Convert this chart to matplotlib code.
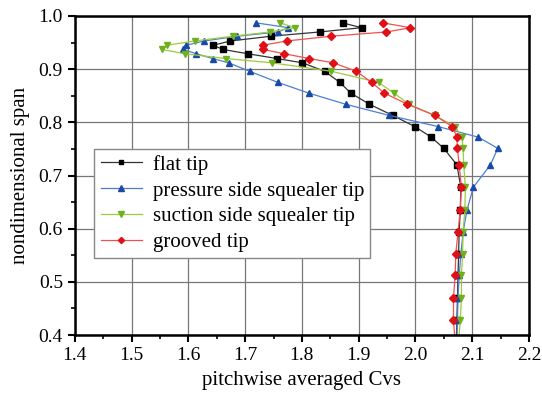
import matplotlib
matplotlib.use("Agg")
import matplotlib.pyplot as plt
from matplotlib.ticker import MultipleLocator
from matplotlib import font_manager

names = {f.name for f in font_manager.fontManager.ttflist}
fam = [n for n in ['Liberation Serif', 'Times New Roman', 'Nimbus Roman', 'STIXGeneral', 'DejaVu Serif'] if n in names]
plt.rcParams['font.family'] = fam

span = [0.987, 0.978, 0.970, 0.962, 0.953, 0.945, 0.937, 0.929, 0.920, 0.912,
        0.896, 0.875, 0.855, 0.834, 0.813, 0.792, 0.772, 0.751, 0.720, 0.678,
        0.636, 0.594, 0.552, 0.512, 0.470, 0.428, 0.386]

flat_tip = [1.872, 1.905, 1.832, 1.746, 1.674, 1.644, 1.661, 1.705, 1.756, 1.801,
            1.840, 1.867, 1.886, 1.919, 1.960, 1.999, 2.028, 2.050, 2.073, 2.080,
            2.079, 2.077, 2.076, 2.075, 2.074, 2.073, 2.072]
pressure_side = [1.720, 1.776, 1.758, 1.686, 1.628, 1.596, 1.591, 1.614, 1.643, 1.671,
                 1.708, 1.758, 1.812, 1.877, 1.954, 2.040, 2.111, 2.145, 2.132, 2.102,
                 2.091, 2.084, 2.080, 2.077, 2.075, 2.074, 2.073]
suction_side = [1.762, 1.788, 1.744, 1.679, 1.611, 1.562, 1.554, 1.594, 1.666, 1.747,
                1.852, 1.935, 1.962, 1.989, 2.034, 2.070, 2.082, 2.084, 2.085, 2.088,
                2.087, 2.084, 2.083, 2.081, 2.081, 2.079, 2.076]
grooved = [1.943, 1.991, 1.949, 1.852, 1.773, 1.731, 1.732, 1.769, 1.813, 1.855,
           1.896, 1.923, 1.945, 1.986, 2.034, 2.065, 2.073, 2.074, 2.077, 2.081,
           2.079, 2.075, 2.071, 2.070, 2.067, 2.067, 2.070]

labels = ['flat tip', 'pressure side squealer tip', 'suction side squealer tip', 'grooved tip']

fig = plt.figure(figsize=(5.42, 4.0), dpi=100)
ax = fig.add_axes([0.138, 0.1625, 0.838, 0.7975])

series = [
    (flat_tip, '#333333', 'black', 's', 3.8),
    (pressure_side, '#4d7fd1', '#1a4aa8', '^', 5.0),
    (suction_side, '#9ccc3a', '#6fb021', 'v', 5.0),
    (grooved, '#f05050', '#e01018', 'D', 4.2),
]
for (xs, lc, mc, mk, ms), lab in zip(series, labels):
    ax.plot(xs, span, color=lc, lw=0.9, marker=mk, markersize=ms,
            markerfacecolor=mc, markeredgecolor=mc, label=lab, clip_on=True)

ax.set_xlim(1.4, 2.2)
ax.set_ylim(0.4, 1.0)
ax.xaxis.set_major_locator(MultipleLocator(0.1))
ax.xaxis.set_minor_locator(MultipleLocator(0.05))
ax.yaxis.set_major_locator(MultipleLocator(0.1))
ax.yaxis.set_minor_locator(MultipleLocator(0.05))
ax.grid(True, which='major', color='#777777', lw=0.9)
ax.set_axisbelow(True)
for s in ax.spines.values():
    s.set_linewidth(1.8)
ax.tick_params(which='major', direction='out', length=5, width=1.5, labelsize=14)
ax.tick_params(which='minor', direction='out', length=3, width=1.2)

ax.set_xlabel('pitchwise averaged Cvs', fontsize=15, labelpad=5)
ax.set_ylabel('nondimensional span', fontsize=15, labelpad=6)

leg = ax.legend(loc='upper left', bbox_to_anchor=(0.02, 0.617), fontsize=15,
                frameon=True, fancybox=False, edgecolor='#888888', framealpha=1,
                handlelength=2.0, borderpad=0.3, labelspacing=0.3, handletextpad=0.5,
                markerscale=0.75)
leg.get_frame().set_linewidth(1.0)

fig.savefig('out.png', dpi=100)
